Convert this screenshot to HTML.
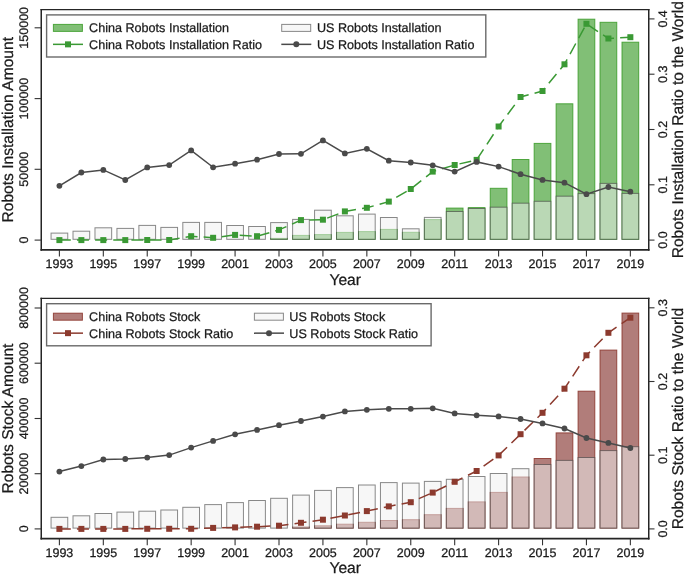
<!DOCTYPE html>
<html><head><meta charset="utf-8"><style>
html,body{margin:0;padding:0;background:#fff;}
body{width:685px;height:575px;overflow:hidden;font-family:"Liberation Sans",sans-serif;}
svg{display:block;will-change:transform;}
text{stroke:#1a1a1a;stroke-width:0.25px;text-rendering:geometricPrecision;}
</style></head><body>
<svg width="685" height="575" viewBox="0 0 685 575">
<rect width="685" height="575" fill="#fff"/>
<rect x="270.65" y="238.40" width="16.7" height="0.90" fill="rgba(58,155,40,0.64)" stroke="rgba(58,155,40,0.85)" stroke-width="1"/>
<rect x="292.61" y="235.40" width="16.7" height="3.90" fill="rgba(58,155,40,0.64)" stroke="rgba(58,155,40,0.85)" stroke-width="1"/>
<rect x="314.57" y="234.60" width="16.7" height="4.70" fill="rgba(58,155,40,0.64)" stroke="rgba(58,155,40,0.85)" stroke-width="1"/>
<rect x="336.53" y="232.40" width="16.7" height="6.90" fill="rgba(58,155,40,0.64)" stroke="rgba(58,155,40,0.85)" stroke-width="1"/>
<rect x="358.49" y="231.60" width="16.7" height="7.70" fill="rgba(58,155,40,0.64)" stroke="rgba(58,155,40,0.85)" stroke-width="1"/>
<rect x="380.45" y="229.40" width="16.7" height="9.90" fill="rgba(58,155,40,0.64)" stroke="rgba(58,155,40,0.85)" stroke-width="1"/>
<rect x="402.41" y="232.30" width="16.7" height="7.00" fill="rgba(58,155,40,0.64)" stroke="rgba(58,155,40,0.85)" stroke-width="1"/>
<rect x="424.37" y="219.60" width="16.7" height="19.70" fill="rgba(58,155,40,0.64)" stroke="rgba(58,155,40,0.85)" stroke-width="1"/>
<rect x="446.33" y="208.10" width="16.7" height="31.20" fill="rgba(58,155,40,0.64)" stroke="rgba(58,155,40,0.85)" stroke-width="1"/>
<rect x="468.29" y="207.60" width="16.7" height="31.70" fill="rgba(58,155,40,0.64)" stroke="rgba(58,155,40,0.85)" stroke-width="1"/>
<rect x="490.25" y="188.30" width="16.7" height="51.00" fill="rgba(58,155,40,0.64)" stroke="rgba(58,155,40,0.85)" stroke-width="1"/>
<rect x="512.21" y="159.50" width="16.7" height="79.80" fill="rgba(58,155,40,0.64)" stroke="rgba(58,155,40,0.85)" stroke-width="1"/>
<rect x="534.17" y="143.40" width="16.7" height="95.90" fill="rgba(58,155,40,0.64)" stroke="rgba(58,155,40,0.85)" stroke-width="1"/>
<rect x="556.13" y="103.80" width="16.7" height="135.50" fill="rgba(58,155,40,0.64)" stroke="rgba(58,155,40,0.85)" stroke-width="1"/>
<rect x="578.09" y="19.20" width="16.7" height="220.10" fill="rgba(58,155,40,0.64)" stroke="rgba(58,155,40,0.85)" stroke-width="1"/>
<rect x="600.05" y="22.30" width="16.7" height="217.00" fill="rgba(58,155,40,0.64)" stroke="rgba(58,155,40,0.85)" stroke-width="1"/>
<rect x="622.01" y="42.20" width="16.7" height="197.10" fill="rgba(58,155,40,0.64)" stroke="rgba(58,155,40,0.85)" stroke-width="1"/>
<rect x="51.05" y="233.10" width="16.7" height="6.20" fill="rgba(240,240,240,0.52)" stroke="rgba(60,60,60,0.6)" stroke-width="1"/>
<rect x="73.01" y="231.20" width="16.7" height="8.10" fill="rgba(240,240,240,0.52)" stroke="rgba(60,60,60,0.6)" stroke-width="1"/>
<rect x="94.97" y="227.80" width="16.7" height="11.50" fill="rgba(240,240,240,0.52)" stroke="rgba(60,60,60,0.6)" stroke-width="1"/>
<rect x="116.93" y="228.40" width="16.7" height="10.90" fill="rgba(240,240,240,0.52)" stroke="rgba(60,60,60,0.6)" stroke-width="1"/>
<rect x="138.89" y="225.40" width="16.7" height="13.90" fill="rgba(240,240,240,0.52)" stroke="rgba(60,60,60,0.6)" stroke-width="1"/>
<rect x="160.85" y="227.40" width="16.7" height="11.90" fill="rgba(240,240,240,0.52)" stroke="rgba(60,60,60,0.6)" stroke-width="1"/>
<rect x="182.81" y="222.40" width="16.7" height="16.90" fill="rgba(240,240,240,0.52)" stroke="rgba(60,60,60,0.6)" stroke-width="1"/>
<rect x="204.77" y="222.40" width="16.7" height="16.90" fill="rgba(240,240,240,0.52)" stroke="rgba(60,60,60,0.6)" stroke-width="1"/>
<rect x="226.73" y="225.50" width="16.7" height="13.80" fill="rgba(240,240,240,0.52)" stroke="rgba(60,60,60,0.6)" stroke-width="1"/>
<rect x="248.69" y="226.50" width="16.7" height="12.80" fill="rgba(240,240,240,0.52)" stroke="rgba(60,60,60,0.6)" stroke-width="1"/>
<rect x="270.65" y="222.60" width="16.7" height="16.70" fill="rgba(240,240,240,0.52)" stroke="rgba(60,60,60,0.6)" stroke-width="1"/>
<rect x="292.61" y="219.40" width="16.7" height="19.90" fill="rgba(240,240,240,0.52)" stroke="rgba(60,60,60,0.6)" stroke-width="1"/>
<rect x="314.57" y="210.20" width="16.7" height="29.10" fill="rgba(240,240,240,0.52)" stroke="rgba(60,60,60,0.6)" stroke-width="1"/>
<rect x="336.53" y="215.80" width="16.7" height="23.50" fill="rgba(240,240,240,0.52)" stroke="rgba(60,60,60,0.6)" stroke-width="1"/>
<rect x="358.49" y="214.10" width="16.7" height="25.20" fill="rgba(240,240,240,0.52)" stroke="rgba(60,60,60,0.6)" stroke-width="1"/>
<rect x="380.45" y="217.50" width="16.7" height="21.80" fill="rgba(240,240,240,0.52)" stroke="rgba(60,60,60,0.6)" stroke-width="1"/>
<rect x="402.41" y="228.80" width="16.7" height="10.50" fill="rgba(240,240,240,0.52)" stroke="rgba(60,60,60,0.6)" stroke-width="1"/>
<rect x="424.37" y="217.40" width="16.7" height="21.90" fill="rgba(240,240,240,0.52)" stroke="rgba(60,60,60,0.6)" stroke-width="1"/>
<rect x="446.33" y="211.50" width="16.7" height="27.80" fill="rgba(240,240,240,0.52)" stroke="rgba(60,60,60,0.6)" stroke-width="1"/>
<rect x="468.29" y="208.50" width="16.7" height="30.80" fill="rgba(240,240,240,0.52)" stroke="rgba(60,60,60,0.6)" stroke-width="1"/>
<rect x="490.25" y="207.20" width="16.7" height="32.10" fill="rgba(240,240,240,0.52)" stroke="rgba(60,60,60,0.6)" stroke-width="1"/>
<rect x="512.21" y="203.20" width="16.7" height="36.10" fill="rgba(240,240,240,0.52)" stroke="rgba(60,60,60,0.6)" stroke-width="1"/>
<rect x="534.17" y="201.30" width="16.7" height="38.00" fill="rgba(240,240,240,0.52)" stroke="rgba(60,60,60,0.6)" stroke-width="1"/>
<rect x="556.13" y="196.20" width="16.7" height="43.10" fill="rgba(240,240,240,0.52)" stroke="rgba(60,60,60,0.6)" stroke-width="1"/>
<rect x="578.09" y="193.60" width="16.7" height="45.70" fill="rgba(240,240,240,0.52)" stroke="rgba(60,60,60,0.6)" stroke-width="1"/>
<rect x="600.05" y="183.40" width="16.7" height="55.90" fill="rgba(240,240,240,0.52)" stroke="rgba(60,60,60,0.6)" stroke-width="1"/>
<rect x="622.01" y="193.40" width="16.7" height="45.90" fill="rgba(240,240,240,0.52)" stroke="rgba(60,60,60,0.6)" stroke-width="1"/>
<polyline points="59.40,240.10 81.36,240.10 103.32,240.10 125.28,240.10 147.24,240.00 169.20,240.00 191.16,236.20 213.12,237.80 235.08,234.90 257.04,236.20 279.00,229.90 300.96,220.10 322.92,219.70 344.88,211.40 366.84,207.80 388.80,201.60 410.76,189.00 432.72,171.60 454.68,165.00 476.64,159.90 498.60,126.50 520.56,97.00 542.52,91.00 564.48,64.30 586.44,23.80 608.40,38.50 630.36,37.20" fill="none" stroke="#3a9934" stroke-width="1.5" stroke-dasharray="12 6.15" stroke-dashoffset="0.6"/>
<rect x="56.40" y="237.10" width="6" height="6" fill="#3a9934"/>
<rect x="78.36" y="237.10" width="6" height="6" fill="#3a9934"/>
<rect x="100.32" y="237.10" width="6" height="6" fill="#3a9934"/>
<rect x="122.28" y="237.10" width="6" height="6" fill="#3a9934"/>
<rect x="144.24" y="237.00" width="6" height="6" fill="#3a9934"/>
<rect x="166.20" y="237.00" width="6" height="6" fill="#3a9934"/>
<rect x="188.16" y="233.20" width="6" height="6" fill="#3a9934"/>
<rect x="210.12" y="234.80" width="6" height="6" fill="#3a9934"/>
<rect x="232.08" y="231.90" width="6" height="6" fill="#3a9934"/>
<rect x="254.04" y="233.20" width="6" height="6" fill="#3a9934"/>
<rect x="276.00" y="226.90" width="6" height="6" fill="#3a9934"/>
<rect x="297.96" y="217.10" width="6" height="6" fill="#3a9934"/>
<rect x="319.92" y="216.70" width="6" height="6" fill="#3a9934"/>
<rect x="341.88" y="208.40" width="6" height="6" fill="#3a9934"/>
<rect x="363.84" y="204.80" width="6" height="6" fill="#3a9934"/>
<rect x="385.80" y="198.60" width="6" height="6" fill="#3a9934"/>
<rect x="407.76" y="186.00" width="6" height="6" fill="#3a9934"/>
<rect x="429.72" y="168.60" width="6" height="6" fill="#3a9934"/>
<rect x="451.68" y="162.00" width="6" height="6" fill="#3a9934"/>
<rect x="473.64" y="156.90" width="6" height="6" fill="#3a9934"/>
<rect x="495.60" y="123.50" width="6" height="6" fill="#3a9934"/>
<rect x="517.56" y="94.00" width="6" height="6" fill="#3a9934"/>
<rect x="539.52" y="88.00" width="6" height="6" fill="#3a9934"/>
<rect x="561.48" y="61.30" width="6" height="6" fill="#3a9934"/>
<rect x="583.44" y="20.80" width="6" height="6" fill="#3a9934"/>
<rect x="605.40" y="35.50" width="6" height="6" fill="#3a9934"/>
<rect x="627.36" y="34.20" width="6" height="6" fill="#3a9934"/>
<polyline points="59.40,185.80 81.36,172.50 103.32,169.90 125.28,180.00 147.24,167.40 169.20,165.10 191.16,150.40 213.12,167.30 235.08,163.70 257.04,159.70 279.00,154.00 300.96,153.80 322.92,140.40 344.88,153.40 366.84,148.80 388.80,160.70 410.76,162.50 432.72,165.30 454.68,171.60 476.64,161.90 498.60,166.60 520.56,174.20 542.52,179.90 564.48,182.70 586.44,194.20 608.40,187.00 630.36,191.70" fill="none" stroke="#4a4a4a" stroke-width="1.5"/>
<circle cx="59.40" cy="185.80" r="2.9" fill="#4a4a4a"/>
<circle cx="81.36" cy="172.50" r="2.9" fill="#4a4a4a"/>
<circle cx="103.32" cy="169.90" r="2.9" fill="#4a4a4a"/>
<circle cx="125.28" cy="180.00" r="2.9" fill="#4a4a4a"/>
<circle cx="147.24" cy="167.40" r="2.9" fill="#4a4a4a"/>
<circle cx="169.20" cy="165.10" r="2.9" fill="#4a4a4a"/>
<circle cx="191.16" cy="150.40" r="2.9" fill="#4a4a4a"/>
<circle cx="213.12" cy="167.30" r="2.9" fill="#4a4a4a"/>
<circle cx="235.08" cy="163.70" r="2.9" fill="#4a4a4a"/>
<circle cx="257.04" cy="159.70" r="2.9" fill="#4a4a4a"/>
<circle cx="279.00" cy="154.00" r="2.9" fill="#4a4a4a"/>
<circle cx="300.96" cy="153.80" r="2.9" fill="#4a4a4a"/>
<circle cx="322.92" cy="140.40" r="2.9" fill="#4a4a4a"/>
<circle cx="344.88" cy="153.40" r="2.9" fill="#4a4a4a"/>
<circle cx="366.84" cy="148.80" r="2.9" fill="#4a4a4a"/>
<circle cx="388.80" cy="160.70" r="2.9" fill="#4a4a4a"/>
<circle cx="410.76" cy="162.50" r="2.9" fill="#4a4a4a"/>
<circle cx="432.72" cy="165.30" r="2.9" fill="#4a4a4a"/>
<circle cx="454.68" cy="171.60" r="2.9" fill="#4a4a4a"/>
<circle cx="476.64" cy="161.90" r="2.9" fill="#4a4a4a"/>
<circle cx="498.60" cy="166.60" r="2.9" fill="#4a4a4a"/>
<circle cx="520.56" cy="174.20" r="2.9" fill="#4a4a4a"/>
<circle cx="542.52" cy="179.90" r="2.9" fill="#4a4a4a"/>
<circle cx="564.48" cy="182.70" r="2.9" fill="#4a4a4a"/>
<circle cx="586.44" cy="194.20" r="2.9" fill="#4a4a4a"/>
<circle cx="608.40" cy="187.00" r="2.9" fill="#4a4a4a"/>
<circle cx="630.36" cy="191.70" r="2.9" fill="#4a4a4a"/>
<path d="M41.25,8.95V250.75M648.75,8.95V250.75" stroke="#252525" stroke-width="1.5" fill="none"/>
<path d="M40.5,9.60H649.5" stroke="#252525" stroke-width="1.3" fill="none"/>
<path d="M40.5,249.90H649.5" stroke="#252525" stroke-width="1.7" fill="none"/>
<line x1="59.40" y1="249.90" x2="59.40" y2="256.50" stroke="#333" stroke-width="1.1"/>
<text x="59.40" y="268.40" font-family="Liberation Sans, sans-serif" font-size="12.5" text-anchor="middle" fill="#1a1a1a">1993</text>
<line x1="103.32" y1="249.90" x2="103.32" y2="256.50" stroke="#333" stroke-width="1.1"/>
<text x="103.32" y="268.40" font-family="Liberation Sans, sans-serif" font-size="12.5" text-anchor="middle" fill="#1a1a1a">1995</text>
<line x1="147.24" y1="249.90" x2="147.24" y2="256.50" stroke="#333" stroke-width="1.1"/>
<text x="147.24" y="268.40" font-family="Liberation Sans, sans-serif" font-size="12.5" text-anchor="middle" fill="#1a1a1a">1997</text>
<line x1="191.16" y1="249.90" x2="191.16" y2="256.50" stroke="#333" stroke-width="1.1"/>
<text x="191.16" y="268.40" font-family="Liberation Sans, sans-serif" font-size="12.5" text-anchor="middle" fill="#1a1a1a">1999</text>
<line x1="235.08" y1="249.90" x2="235.08" y2="256.50" stroke="#333" stroke-width="1.1"/>
<text x="235.08" y="268.40" font-family="Liberation Sans, sans-serif" font-size="12.5" text-anchor="middle" fill="#1a1a1a">2001</text>
<line x1="279.00" y1="249.90" x2="279.00" y2="256.50" stroke="#333" stroke-width="1.1"/>
<text x="279.00" y="268.40" font-family="Liberation Sans, sans-serif" font-size="12.5" text-anchor="middle" fill="#1a1a1a">2003</text>
<line x1="322.92" y1="249.90" x2="322.92" y2="256.50" stroke="#333" stroke-width="1.1"/>
<text x="322.92" y="268.40" font-family="Liberation Sans, sans-serif" font-size="12.5" text-anchor="middle" fill="#1a1a1a">2005</text>
<line x1="366.84" y1="249.90" x2="366.84" y2="256.50" stroke="#333" stroke-width="1.1"/>
<text x="366.84" y="268.40" font-family="Liberation Sans, sans-serif" font-size="12.5" text-anchor="middle" fill="#1a1a1a">2007</text>
<line x1="410.76" y1="249.90" x2="410.76" y2="256.50" stroke="#333" stroke-width="1.1"/>
<text x="410.76" y="268.40" font-family="Liberation Sans, sans-serif" font-size="12.5" text-anchor="middle" fill="#1a1a1a">2009</text>
<line x1="454.68" y1="249.90" x2="454.68" y2="256.50" stroke="#333" stroke-width="1.1"/>
<text x="454.68" y="268.40" font-family="Liberation Sans, sans-serif" font-size="12.5" text-anchor="middle" fill="#1a1a1a">2011</text>
<line x1="498.60" y1="249.90" x2="498.60" y2="256.50" stroke="#333" stroke-width="1.1"/>
<text x="498.60" y="268.40" font-family="Liberation Sans, sans-serif" font-size="12.5" text-anchor="middle" fill="#1a1a1a">2013</text>
<line x1="542.52" y1="249.90" x2="542.52" y2="256.50" stroke="#333" stroke-width="1.1"/>
<text x="542.52" y="268.40" font-family="Liberation Sans, sans-serif" font-size="12.5" text-anchor="middle" fill="#1a1a1a">2015</text>
<line x1="586.44" y1="249.90" x2="586.44" y2="256.50" stroke="#333" stroke-width="1.1"/>
<text x="586.44" y="268.40" font-family="Liberation Sans, sans-serif" font-size="12.5" text-anchor="middle" fill="#1a1a1a">2017</text>
<line x1="630.36" y1="249.90" x2="630.36" y2="256.50" stroke="#333" stroke-width="1.1"/>
<text x="630.36" y="268.40" font-family="Liberation Sans, sans-serif" font-size="12.5" text-anchor="middle" fill="#1a1a1a">2019</text>
<text x="345.2" y="284.50" font-family="Liberation Sans, sans-serif" font-size="15.6" text-anchor="middle" fill="#1a1a1a">Year</text>
<line x1="34.6" y1="240.10" x2="41.25" y2="240.10" stroke="#333" stroke-width="1.1"/>
<text transform="translate(28,240.10) rotate(-90)" font-family="Liberation Sans, sans-serif" font-size="12.5" text-anchor="middle" fill="#1a1a1a">0</text>
<line x1="34.6" y1="169.30" x2="41.25" y2="169.30" stroke="#333" stroke-width="1.1"/>
<text transform="translate(28,169.30) rotate(-90)" font-family="Liberation Sans, sans-serif" font-size="12.5" text-anchor="middle" fill="#1a1a1a">50000</text>
<line x1="34.6" y1="98.60" x2="41.25" y2="98.60" stroke="#333" stroke-width="1.1"/>
<text transform="translate(28,98.60) rotate(-90)" font-family="Liberation Sans, sans-serif" font-size="12.5" text-anchor="middle" fill="#1a1a1a">100000</text>
<line x1="34.6" y1="27.80" x2="41.25" y2="27.80" stroke="#333" stroke-width="1.1"/>
<text transform="translate(28,27.80) rotate(-90)" font-family="Liberation Sans, sans-serif" font-size="12.5" text-anchor="middle" fill="#1a1a1a">150000</text>
<line x1="648.75" y1="240.10" x2="654.5" y2="240.10" stroke="#333" stroke-width="1.1"/>
<text transform="translate(667,240.10) rotate(-90)" font-family="Liberation Sans, sans-serif" font-size="12.5" text-anchor="middle" fill="#1a1a1a">0.0</text>
<line x1="648.75" y1="184.80" x2="654.5" y2="184.80" stroke="#333" stroke-width="1.1"/>
<text transform="translate(667,184.80) rotate(-90)" font-family="Liberation Sans, sans-serif" font-size="12.5" text-anchor="middle" fill="#1a1a1a">0.1</text>
<line x1="648.75" y1="129.50" x2="654.5" y2="129.50" stroke="#333" stroke-width="1.1"/>
<text transform="translate(667,129.50) rotate(-90)" font-family="Liberation Sans, sans-serif" font-size="12.5" text-anchor="middle" fill="#1a1a1a">0.2</text>
<line x1="648.75" y1="74.20" x2="654.5" y2="74.20" stroke="#333" stroke-width="1.1"/>
<text transform="translate(667,74.20) rotate(-90)" font-family="Liberation Sans, sans-serif" font-size="12.5" text-anchor="middle" fill="#1a1a1a">0.3</text>
<line x1="648.75" y1="18.90" x2="654.5" y2="18.90" stroke="#333" stroke-width="1.1"/>
<text transform="translate(667,18.90) rotate(-90)" font-family="Liberation Sans, sans-serif" font-size="12.5" text-anchor="middle" fill="#1a1a1a">0.4</text>
<text transform="translate(13,129.75) rotate(-90)" font-family="Liberation Sans, sans-serif" font-size="15.6" text-anchor="middle" fill="#1a1a1a">Robots Installation Amount</text>
<text transform="translate(683.2,129.75) rotate(-90)" font-family="Liberation Sans, sans-serif" font-size="15.6" text-anchor="middle" fill="#1a1a1a">Robots Installation Ratio to the World</text>
<rect x="46.6" y="14.90" width="439.20" height="42.10" fill="#fff" stroke="#6a6a6a" stroke-width="1.4"/>
<rect x="53.4" y="24.40" width="29" height="7" fill="rgba(58,155,40,0.64)" stroke="rgba(58,155,40,0.85)" stroke-width="1"/>
<line x1="53" y1="44.35" x2="83" y2="44.35" stroke="#3a9934" stroke-width="1.5"/>
<rect x="65" y="41.35" width="6" height="6" fill="#3a9934"/>
<rect x="281.7" y="24.40" width="29" height="7" fill="rgba(240,240,240,0.52)" stroke="rgba(60,60,60,0.6)" stroke-width="1"/>
<line x1="281.3" y1="44.35" x2="311.3" y2="44.35" stroke="#4a4a4a" stroke-width="1.5"/>
<circle cx="296.3" cy="44.35" r="3.0" fill="#4a4a4a"/>
<text x="89.1" y="31.90" font-family="Liberation Sans, sans-serif" font-size="12.6" fill="#1a1a1a">China Robots Installation</text>
<text x="89.1" y="48.75" font-family="Liberation Sans, sans-serif" font-size="12.6" fill="#1a1a1a">China Robots Installation Ratio</text>
<text x="316.9" y="31.90" font-family="Liberation Sans, sans-serif" font-size="12.6" fill="#1a1a1a">US Robots Installation</text>
<text x="316.9" y="48.75" font-family="Liberation Sans, sans-serif" font-size="12.6" fill="#1a1a1a">US Robots Installation Ratio</text>
<rect x="292.61" y="527.00" width="16.7" height="1.10" fill="rgba(135,56,50,0.65)" stroke="rgba(138,52,42,0.85)" stroke-width="1"/>
<rect x="314.57" y="525.80" width="16.7" height="2.30" fill="rgba(135,56,50,0.65)" stroke="rgba(138,52,42,0.85)" stroke-width="1"/>
<rect x="336.53" y="524.20" width="16.7" height="3.90" fill="rgba(135,56,50,0.65)" stroke="rgba(138,52,42,0.85)" stroke-width="1"/>
<rect x="358.49" y="522.30" width="16.7" height="5.80" fill="rgba(135,56,50,0.65)" stroke="rgba(138,52,42,0.85)" stroke-width="1"/>
<rect x="380.45" y="520.50" width="16.7" height="7.60" fill="rgba(135,56,50,0.65)" stroke="rgba(138,52,42,0.85)" stroke-width="1"/>
<rect x="402.41" y="519.70" width="16.7" height="8.40" fill="rgba(135,56,50,0.65)" stroke="rgba(138,52,42,0.85)" stroke-width="1"/>
<rect x="424.37" y="514.70" width="16.7" height="13.40" fill="rgba(135,56,50,0.65)" stroke="rgba(138,52,42,0.85)" stroke-width="1"/>
<rect x="446.33" y="508.40" width="16.7" height="19.70" fill="rgba(135,56,50,0.65)" stroke="rgba(138,52,42,0.85)" stroke-width="1"/>
<rect x="468.29" y="501.90" width="16.7" height="26.20" fill="rgba(135,56,50,0.65)" stroke="rgba(138,52,42,0.85)" stroke-width="1"/>
<rect x="490.25" y="492.40" width="16.7" height="35.70" fill="rgba(135,56,50,0.65)" stroke="rgba(138,52,42,0.85)" stroke-width="1"/>
<rect x="512.21" y="477.00" width="16.7" height="51.10" fill="rgba(135,56,50,0.65)" stroke="rgba(138,52,42,0.85)" stroke-width="1"/>
<rect x="534.17" y="458.50" width="16.7" height="69.60" fill="rgba(135,56,50,0.65)" stroke="rgba(138,52,42,0.85)" stroke-width="1"/>
<rect x="556.13" y="432.90" width="16.7" height="95.20" fill="rgba(135,56,50,0.65)" stroke="rgba(138,52,42,0.85)" stroke-width="1"/>
<rect x="578.09" y="391.20" width="16.7" height="136.90" fill="rgba(135,56,50,0.65)" stroke="rgba(138,52,42,0.85)" stroke-width="1"/>
<rect x="600.05" y="350.10" width="16.7" height="178.00" fill="rgba(135,56,50,0.65)" stroke="rgba(138,52,42,0.85)" stroke-width="1"/>
<rect x="622.01" y="313.10" width="16.7" height="215.00" fill="rgba(135,56,50,0.65)" stroke="rgba(138,52,42,0.85)" stroke-width="1"/>
<rect x="51.05" y="517.30" width="16.7" height="10.80" fill="rgba(240,240,240,0.52)" stroke="rgba(60,60,60,0.6)" stroke-width="1"/>
<rect x="73.01" y="515.80" width="16.7" height="12.30" fill="rgba(240,240,240,0.52)" stroke="rgba(60,60,60,0.6)" stroke-width="1"/>
<rect x="94.97" y="513.50" width="16.7" height="14.60" fill="rgba(240,240,240,0.52)" stroke="rgba(60,60,60,0.6)" stroke-width="1"/>
<rect x="116.93" y="512.10" width="16.7" height="16.00" fill="rgba(240,240,240,0.52)" stroke="rgba(60,60,60,0.6)" stroke-width="1"/>
<rect x="138.89" y="511.20" width="16.7" height="16.90" fill="rgba(240,240,240,0.52)" stroke="rgba(60,60,60,0.6)" stroke-width="1"/>
<rect x="160.85" y="510.00" width="16.7" height="18.10" fill="rgba(240,240,240,0.52)" stroke="rgba(60,60,60,0.6)" stroke-width="1"/>
<rect x="182.81" y="507.30" width="16.7" height="20.80" fill="rgba(240,240,240,0.52)" stroke="rgba(60,60,60,0.6)" stroke-width="1"/>
<rect x="204.77" y="504.60" width="16.7" height="23.50" fill="rgba(240,240,240,0.52)" stroke="rgba(60,60,60,0.6)" stroke-width="1"/>
<rect x="226.73" y="502.60" width="16.7" height="25.50" fill="rgba(240,240,240,0.52)" stroke="rgba(60,60,60,0.6)" stroke-width="1"/>
<rect x="248.69" y="500.50" width="16.7" height="27.60" fill="rgba(240,240,240,0.52)" stroke="rgba(60,60,60,0.6)" stroke-width="1"/>
<rect x="270.65" y="498.30" width="16.7" height="29.80" fill="rgba(240,240,240,0.52)" stroke="rgba(60,60,60,0.6)" stroke-width="1"/>
<rect x="292.61" y="495.10" width="16.7" height="33.00" fill="rgba(240,240,240,0.52)" stroke="rgba(60,60,60,0.6)" stroke-width="1"/>
<rect x="314.57" y="490.40" width="16.7" height="37.70" fill="rgba(240,240,240,0.52)" stroke="rgba(60,60,60,0.6)" stroke-width="1"/>
<rect x="336.53" y="487.60" width="16.7" height="40.50" fill="rgba(240,240,240,0.52)" stroke="rgba(60,60,60,0.6)" stroke-width="1"/>
<rect x="358.49" y="485.00" width="16.7" height="43.10" fill="rgba(240,240,240,0.52)" stroke="rgba(60,60,60,0.6)" stroke-width="1"/>
<rect x="380.45" y="482.60" width="16.7" height="45.50" fill="rgba(240,240,240,0.52)" stroke="rgba(60,60,60,0.6)" stroke-width="1"/>
<rect x="402.41" y="483.10" width="16.7" height="45.00" fill="rgba(240,240,240,0.52)" stroke="rgba(60,60,60,0.6)" stroke-width="1"/>
<rect x="424.37" y="481.40" width="16.7" height="46.70" fill="rgba(240,240,240,0.52)" stroke="rgba(60,60,60,0.6)" stroke-width="1"/>
<rect x="446.33" y="479.30" width="16.7" height="48.80" fill="rgba(240,240,240,0.52)" stroke="rgba(60,60,60,0.6)" stroke-width="1"/>
<rect x="468.29" y="476.50" width="16.7" height="51.60" fill="rgba(240,240,240,0.52)" stroke="rgba(60,60,60,0.6)" stroke-width="1"/>
<rect x="490.25" y="473.50" width="16.7" height="54.60" fill="rgba(240,240,240,0.52)" stroke="rgba(60,60,60,0.6)" stroke-width="1"/>
<rect x="512.21" y="468.70" width="16.7" height="59.40" fill="rgba(240,240,240,0.52)" stroke="rgba(60,60,60,0.6)" stroke-width="1"/>
<rect x="534.17" y="464.50" width="16.7" height="63.60" fill="rgba(240,240,240,0.52)" stroke="rgba(60,60,60,0.6)" stroke-width="1"/>
<rect x="556.13" y="460.40" width="16.7" height="67.70" fill="rgba(240,240,240,0.52)" stroke="rgba(60,60,60,0.6)" stroke-width="1"/>
<rect x="578.09" y="457.50" width="16.7" height="70.60" fill="rgba(240,240,240,0.52)" stroke="rgba(60,60,60,0.6)" stroke-width="1"/>
<rect x="600.05" y="450.60" width="16.7" height="77.50" fill="rgba(240,240,240,0.52)" stroke="rgba(60,60,60,0.6)" stroke-width="1"/>
<rect x="622.01" y="446.70" width="16.7" height="81.40" fill="rgba(240,240,240,0.52)" stroke="rgba(60,60,60,0.6)" stroke-width="1"/>
<polyline points="59.40,528.90 81.36,528.90 103.32,528.90 125.28,528.90 147.24,528.80 169.20,528.80 191.16,528.80 213.12,527.90 235.08,527.40 257.04,526.70 279.00,525.70 300.96,522.80 322.92,519.70 344.88,515.50 366.84,511.10 388.80,506.40 410.76,502.20 432.72,492.60 454.68,481.80 476.64,471.00 498.60,455.40 520.56,434.20 542.52,412.80 564.48,388.70 586.44,355.30 608.40,332.80 630.36,317.70" fill="none" stroke="#8c3a2e" stroke-width="1.5" stroke-dasharray="12 6.15" stroke-dashoffset="0.6"/>
<rect x="56.40" y="525.90" width="6" height="6" fill="#8c3a2e"/>
<rect x="78.36" y="525.90" width="6" height="6" fill="#8c3a2e"/>
<rect x="100.32" y="525.90" width="6" height="6" fill="#8c3a2e"/>
<rect x="122.28" y="525.90" width="6" height="6" fill="#8c3a2e"/>
<rect x="144.24" y="525.80" width="6" height="6" fill="#8c3a2e"/>
<rect x="166.20" y="525.80" width="6" height="6" fill="#8c3a2e"/>
<rect x="188.16" y="525.80" width="6" height="6" fill="#8c3a2e"/>
<rect x="210.12" y="524.90" width="6" height="6" fill="#8c3a2e"/>
<rect x="232.08" y="524.40" width="6" height="6" fill="#8c3a2e"/>
<rect x="254.04" y="523.70" width="6" height="6" fill="#8c3a2e"/>
<rect x="276.00" y="522.70" width="6" height="6" fill="#8c3a2e"/>
<rect x="297.96" y="519.80" width="6" height="6" fill="#8c3a2e"/>
<rect x="319.92" y="516.70" width="6" height="6" fill="#8c3a2e"/>
<rect x="341.88" y="512.50" width="6" height="6" fill="#8c3a2e"/>
<rect x="363.84" y="508.10" width="6" height="6" fill="#8c3a2e"/>
<rect x="385.80" y="503.40" width="6" height="6" fill="#8c3a2e"/>
<rect x="407.76" y="499.20" width="6" height="6" fill="#8c3a2e"/>
<rect x="429.72" y="489.60" width="6" height="6" fill="#8c3a2e"/>
<rect x="451.68" y="478.80" width="6" height="6" fill="#8c3a2e"/>
<rect x="473.64" y="468.00" width="6" height="6" fill="#8c3a2e"/>
<rect x="495.60" y="452.40" width="6" height="6" fill="#8c3a2e"/>
<rect x="517.56" y="431.20" width="6" height="6" fill="#8c3a2e"/>
<rect x="539.52" y="409.80" width="6" height="6" fill="#8c3a2e"/>
<rect x="561.48" y="385.70" width="6" height="6" fill="#8c3a2e"/>
<rect x="583.44" y="352.30" width="6" height="6" fill="#8c3a2e"/>
<rect x="605.40" y="329.80" width="6" height="6" fill="#8c3a2e"/>
<rect x="627.36" y="314.70" width="6" height="6" fill="#8c3a2e"/>
<polyline points="59.40,471.60 81.36,466.10 103.32,459.50 125.28,459.00 147.24,457.60 169.20,455.10 191.16,447.60 213.12,440.90 235.08,434.30 257.04,429.90 279.00,425.20 300.96,421.00 322.92,416.60 344.88,411.40 366.84,409.80 388.80,408.80 410.76,408.80 432.72,408.30 454.68,413.40 476.64,415.30 498.60,416.40 520.56,419.00 542.52,423.40 564.48,428.50 586.44,438.00 608.40,442.90 630.36,448.00" fill="none" stroke="#4a4a4a" stroke-width="1.5"/>
<circle cx="59.40" cy="471.60" r="2.9" fill="#4a4a4a"/>
<circle cx="81.36" cy="466.10" r="2.9" fill="#4a4a4a"/>
<circle cx="103.32" cy="459.50" r="2.9" fill="#4a4a4a"/>
<circle cx="125.28" cy="459.00" r="2.9" fill="#4a4a4a"/>
<circle cx="147.24" cy="457.60" r="2.9" fill="#4a4a4a"/>
<circle cx="169.20" cy="455.10" r="2.9" fill="#4a4a4a"/>
<circle cx="191.16" cy="447.60" r="2.9" fill="#4a4a4a"/>
<circle cx="213.12" cy="440.90" r="2.9" fill="#4a4a4a"/>
<circle cx="235.08" cy="434.30" r="2.9" fill="#4a4a4a"/>
<circle cx="257.04" cy="429.90" r="2.9" fill="#4a4a4a"/>
<circle cx="279.00" cy="425.20" r="2.9" fill="#4a4a4a"/>
<circle cx="300.96" cy="421.00" r="2.9" fill="#4a4a4a"/>
<circle cx="322.92" cy="416.60" r="2.9" fill="#4a4a4a"/>
<circle cx="344.88" cy="411.40" r="2.9" fill="#4a4a4a"/>
<circle cx="366.84" cy="409.80" r="2.9" fill="#4a4a4a"/>
<circle cx="388.80" cy="408.80" r="2.9" fill="#4a4a4a"/>
<circle cx="410.76" cy="408.80" r="2.9" fill="#4a4a4a"/>
<circle cx="432.72" cy="408.30" r="2.9" fill="#4a4a4a"/>
<circle cx="454.68" cy="413.40" r="2.9" fill="#4a4a4a"/>
<circle cx="476.64" cy="415.30" r="2.9" fill="#4a4a4a"/>
<circle cx="498.60" cy="416.40" r="2.9" fill="#4a4a4a"/>
<circle cx="520.56" cy="419.00" r="2.9" fill="#4a4a4a"/>
<circle cx="542.52" cy="423.40" r="2.9" fill="#4a4a4a"/>
<circle cx="564.48" cy="428.50" r="2.9" fill="#4a4a4a"/>
<circle cx="586.44" cy="438.00" r="2.9" fill="#4a4a4a"/>
<circle cx="608.40" cy="442.90" r="2.9" fill="#4a4a4a"/>
<circle cx="630.36" cy="448.00" r="2.9" fill="#4a4a4a"/>
<path d="M41.25,297.75V539.55M648.75,297.75V539.55" stroke="#252525" stroke-width="1.5" fill="none"/>
<path d="M40.5,298.40H649.5" stroke="#252525" stroke-width="1.3" fill="none"/>
<path d="M40.5,538.70H649.5" stroke="#252525" stroke-width="1.7" fill="none"/>
<line x1="59.40" y1="538.70" x2="59.40" y2="545.30" stroke="#333" stroke-width="1.1"/>
<text x="59.40" y="557.20" font-family="Liberation Sans, sans-serif" font-size="12.5" text-anchor="middle" fill="#1a1a1a">1993</text>
<line x1="103.32" y1="538.70" x2="103.32" y2="545.30" stroke="#333" stroke-width="1.1"/>
<text x="103.32" y="557.20" font-family="Liberation Sans, sans-serif" font-size="12.5" text-anchor="middle" fill="#1a1a1a">1995</text>
<line x1="147.24" y1="538.70" x2="147.24" y2="545.30" stroke="#333" stroke-width="1.1"/>
<text x="147.24" y="557.20" font-family="Liberation Sans, sans-serif" font-size="12.5" text-anchor="middle" fill="#1a1a1a">1997</text>
<line x1="191.16" y1="538.70" x2="191.16" y2="545.30" stroke="#333" stroke-width="1.1"/>
<text x="191.16" y="557.20" font-family="Liberation Sans, sans-serif" font-size="12.5" text-anchor="middle" fill="#1a1a1a">1999</text>
<line x1="235.08" y1="538.70" x2="235.08" y2="545.30" stroke="#333" stroke-width="1.1"/>
<text x="235.08" y="557.20" font-family="Liberation Sans, sans-serif" font-size="12.5" text-anchor="middle" fill="#1a1a1a">2001</text>
<line x1="279.00" y1="538.70" x2="279.00" y2="545.30" stroke="#333" stroke-width="1.1"/>
<text x="279.00" y="557.20" font-family="Liberation Sans, sans-serif" font-size="12.5" text-anchor="middle" fill="#1a1a1a">2003</text>
<line x1="322.92" y1="538.70" x2="322.92" y2="545.30" stroke="#333" stroke-width="1.1"/>
<text x="322.92" y="557.20" font-family="Liberation Sans, sans-serif" font-size="12.5" text-anchor="middle" fill="#1a1a1a">2005</text>
<line x1="366.84" y1="538.70" x2="366.84" y2="545.30" stroke="#333" stroke-width="1.1"/>
<text x="366.84" y="557.20" font-family="Liberation Sans, sans-serif" font-size="12.5" text-anchor="middle" fill="#1a1a1a">2007</text>
<line x1="410.76" y1="538.70" x2="410.76" y2="545.30" stroke="#333" stroke-width="1.1"/>
<text x="410.76" y="557.20" font-family="Liberation Sans, sans-serif" font-size="12.5" text-anchor="middle" fill="#1a1a1a">2009</text>
<line x1="454.68" y1="538.70" x2="454.68" y2="545.30" stroke="#333" stroke-width="1.1"/>
<text x="454.68" y="557.20" font-family="Liberation Sans, sans-serif" font-size="12.5" text-anchor="middle" fill="#1a1a1a">2011</text>
<line x1="498.60" y1="538.70" x2="498.60" y2="545.30" stroke="#333" stroke-width="1.1"/>
<text x="498.60" y="557.20" font-family="Liberation Sans, sans-serif" font-size="12.5" text-anchor="middle" fill="#1a1a1a">2013</text>
<line x1="542.52" y1="538.70" x2="542.52" y2="545.30" stroke="#333" stroke-width="1.1"/>
<text x="542.52" y="557.20" font-family="Liberation Sans, sans-serif" font-size="12.5" text-anchor="middle" fill="#1a1a1a">2015</text>
<line x1="586.44" y1="538.70" x2="586.44" y2="545.30" stroke="#333" stroke-width="1.1"/>
<text x="586.44" y="557.20" font-family="Liberation Sans, sans-serif" font-size="12.5" text-anchor="middle" fill="#1a1a1a">2017</text>
<line x1="630.36" y1="538.70" x2="630.36" y2="545.30" stroke="#333" stroke-width="1.1"/>
<text x="630.36" y="557.20" font-family="Liberation Sans, sans-serif" font-size="12.5" text-anchor="middle" fill="#1a1a1a">2019</text>
<text x="345.2" y="573.30" font-family="Liberation Sans, sans-serif" font-size="15.6" text-anchor="middle" fill="#1a1a1a">Year</text>
<line x1="34.6" y1="528.90" x2="41.25" y2="528.90" stroke="#333" stroke-width="1.1"/>
<text transform="translate(28,528.90) rotate(-90)" font-family="Liberation Sans, sans-serif" font-size="12.5" text-anchor="middle" fill="#1a1a1a">0</text>
<line x1="34.6" y1="473.70" x2="41.25" y2="473.70" stroke="#333" stroke-width="1.1"/>
<text transform="translate(28,473.70) rotate(-90)" font-family="Liberation Sans, sans-serif" font-size="12.5" text-anchor="middle" fill="#1a1a1a">200000</text>
<line x1="34.6" y1="418.50" x2="41.25" y2="418.50" stroke="#333" stroke-width="1.1"/>
<text transform="translate(28,418.50) rotate(-90)" font-family="Liberation Sans, sans-serif" font-size="12.5" text-anchor="middle" fill="#1a1a1a">400000</text>
<line x1="34.6" y1="363.20" x2="41.25" y2="363.20" stroke="#333" stroke-width="1.1"/>
<text transform="translate(28,363.20) rotate(-90)" font-family="Liberation Sans, sans-serif" font-size="12.5" text-anchor="middle" fill="#1a1a1a">600000</text>
<line x1="34.6" y1="308.00" x2="41.25" y2="308.00" stroke="#333" stroke-width="1.1"/>
<text transform="translate(28,308.00) rotate(-90)" font-family="Liberation Sans, sans-serif" font-size="12.5" text-anchor="middle" fill="#1a1a1a">800000</text>
<line x1="648.75" y1="528.90" x2="654.5" y2="528.90" stroke="#333" stroke-width="1.1"/>
<text transform="translate(667,528.90) rotate(-90)" font-family="Liberation Sans, sans-serif" font-size="12.5" text-anchor="middle" fill="#1a1a1a">0.0</text>
<line x1="648.75" y1="455.20" x2="654.5" y2="455.20" stroke="#333" stroke-width="1.1"/>
<text transform="translate(667,455.20) rotate(-90)" font-family="Liberation Sans, sans-serif" font-size="12.5" text-anchor="middle" fill="#1a1a1a">0.1</text>
<line x1="648.75" y1="381.50" x2="654.5" y2="381.50" stroke="#333" stroke-width="1.1"/>
<text transform="translate(667,381.50) rotate(-90)" font-family="Liberation Sans, sans-serif" font-size="12.5" text-anchor="middle" fill="#1a1a1a">0.2</text>
<line x1="648.75" y1="307.80" x2="654.5" y2="307.80" stroke="#333" stroke-width="1.1"/>
<text transform="translate(667,307.80) rotate(-90)" font-family="Liberation Sans, sans-serif" font-size="12.5" text-anchor="middle" fill="#1a1a1a">0.3</text>
<text transform="translate(13,418.55) rotate(-90)" font-family="Liberation Sans, sans-serif" font-size="15.6" text-anchor="middle" fill="#1a1a1a">Robots Stock Amount</text>
<text transform="translate(683.2,418.55) rotate(-90)" font-family="Liberation Sans, sans-serif" font-size="15.6" text-anchor="middle" fill="#1a1a1a">Robots Stock Ratio to the World</text>
<rect x="46.6" y="303.70" width="384.50" height="42.10" fill="#fff" stroke="#6a6a6a" stroke-width="1.4"/>
<rect x="53.4" y="313.20" width="29" height="7" fill="rgba(135,56,50,0.65)" stroke="rgba(138,52,42,0.85)" stroke-width="1"/>
<line x1="53" y1="333.15" x2="83" y2="333.15" stroke="#8c3a2e" stroke-width="1.5"/>
<rect x="65" y="330.15" width="6" height="6" fill="#8c3a2e"/>
<rect x="254.4" y="313.20" width="29" height="7" fill="rgba(240,240,240,0.52)" stroke="rgba(60,60,60,0.6)" stroke-width="1"/>
<line x1="254" y1="333.15" x2="284" y2="333.15" stroke="#4a4a4a" stroke-width="1.5"/>
<circle cx="269" cy="333.15" r="3.0" fill="#4a4a4a"/>
<text x="89.1" y="320.70" font-family="Liberation Sans, sans-serif" font-size="12.6" fill="#1a1a1a">China Robots Stock</text>
<text x="89.1" y="337.55" font-family="Liberation Sans, sans-serif" font-size="12.6" fill="#1a1a1a">China Robots Stock Ratio</text>
<text x="289.3" y="320.70" font-family="Liberation Sans, sans-serif" font-size="12.6" fill="#1a1a1a">US Robots Stock</text>
<text x="289.3" y="337.55" font-family="Liberation Sans, sans-serif" font-size="12.6" fill="#1a1a1a">US Robots Stock Ratio</text>
</svg>
</body></html>
